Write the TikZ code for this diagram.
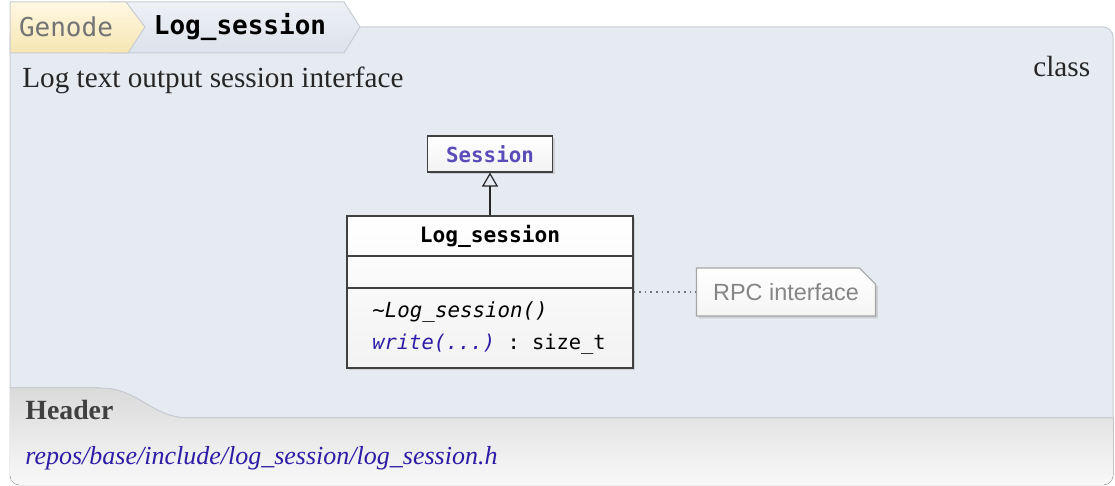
\documentclass[tikz,border=0pt]{standalone}
\usepackage{fontspec}
\setmainfont{Liberation Serif}
\setsansfont{Liberation Sans}
\setmonofont{DejaVu Sans Mono}
\usetikzlibrary{shapes.misc,shadows,arrows.meta}
\definecolor{panelbg}{HTML}{E6EAF1}
\definecolor{panelline}{HTML}{C8CCD3}
\definecolor{tabyellowtop}{HTML}{FFF8E2}
\definecolor{tabyellowbot}{HTML}{F6E6B2}
\definecolor{tabbluetop}{HTML}{EEF1F6}
\definecolor{tabbluebot}{HTML}{DCE2EB}
\definecolor{footertop}{HTML}{DADADA}
\definecolor{footerbot}{HTML}{FAFAFA}
\definecolor{refpurple}{HTML}{5A4CB8}
\definecolor{linkblue}{HTML}{2C1CA6}
\definecolor{notegrey}{HTML}{858585}

\begin{document}
\begin{tikzpicture}[
  x=0.5pt,y=-0.5pt,
  crumb/.style={inner sep=0pt,font=\fontsize{13pt}{15pt}\selectfont\ttfamily},
  desc/.style={inner sep=0pt,text=black!85,font=\fontsize{14.6pt}{17pt}\selectfont},
  umlbox/.style={draw=black!75,line width=0.6pt,top color=white,bottom color=black!5,
    drop shadow={shadow xshift=1.2pt,shadow yshift=-1.2pt,opacity=0.25}},
  umltext/.style={inner sep=0pt,font=\fontsize{10.4pt}{12pt}\selectfont\ttfamily},
  notebox/.style={chamfered rectangle,chamfered rectangle corners=north east,
    chamfered rectangle xsep=5pt,draw=black!35,line width=0.6pt,
    top color=white,bottom color=black!4,minimum width=89pt,minimum height=24pt,
    drop shadow={shadow xshift=1.2pt,shadow yshift=-1.2pt,opacity=0.25},
    text=notegrey,font=\fontsize{11.7pt}{14pt}\selectfont\sffamily}
]
  \useasboundingbox (0,0) rectangle (1115,486);

  \filldraw[fill=panelbg,draw=panelline,line width=0.5pt,rounded corners=5pt]
    (10,27) rectangle (1113,485);
  \begin{scope}
    \clip[rounded corners=5pt] (10,27) rectangle (1113,485);
    \fill[top color=footertop,bottom color=footerbot]
      (0,388) -- (100,388) .. controls (140,388) and (150,418) .. (190,418)
      -- (1120,418) -- (1120,490) -- (0,490) -- cycle;
    \draw[panelline,line width=0.5pt]
      (0,388) -- (100,388) .. controls (140,388) and (150,418) .. (190,418) -- (1120,418);
  \end{scope}

  \path[top color=tabbluetop,bottom color=tabbluebot,draw=panelline,line width=0.5pt]
    (110,2) -- (344,2) -- (360,27) -- (344,53) -- (110,53) -- cycle;
  \path[top color=tabyellowtop,bottom color=tabyellowbot,draw=panelline,line width=0.5pt]
    (10,53) -- (10,2) -- (126,2) -- (145,27) -- (128,53) -- cycle;

  \node[crumb,text=black!55] (genode) at (66,27) {Genode};
  \node[crumb,font=\fontsize{13pt}{15pt}\selectfont\ttfamily\bfseries] (crumbname) at (240,27) {Log\_session};

  \node[desc,anchor=base west] (brief) at (22,88) {Log text output session interface};
  \node[desc,anchor=base west] (kind) at (1033,77) {class};

  \node[umlbox,minimum width=62.5pt,minimum height=18pt] (session) at (490,154) {};
  \node[umltext,text=refpurple,font=\fontsize{10.4pt}{12pt}\selectfont\ttfamily\bfseries] (sessionname) at (session) {Session};

  \node[umlbox,minimum width=143pt,minimum height=76pt] (cls) at (490,292) {};
  \node[umltext,font=\fontsize{10.6pt}{12pt}\selectfont\ttfamily\bfseries] (clsname) at (490,236) {Log\_session};
  \draw[black!75,line width=0.6pt] (cls.west |- 0,256) -- (cls.east |- 0,256);
  \draw[black!75,line width=0.6pt] (cls.west |- 0,288) -- (cls.east |- 0,288);
  \node[umltext,anchor=base west] (dtor) at (372,318) {\itshape\textasciitilde Log\_session()};
  \node[umltext,anchor=base west,font=\fontsize{10.2pt}{12pt}\selectfont\ttfamily] (write) at (372,350) {\textcolor{linkblue}{\itshape write(...)} : size\_t};

  \draw[black!85,line width=0.6pt,-{Triangle[open,length=7pt,width=8pt]}] (cls) -- (session);

  \node[notebox] (rpc) at (786,292) {RPC interface};
  \draw[black!55,line width=0.8pt,dotted] (rpc.west -| cls.east) -- (rpc.west);

  \node[inner sep=0pt,anchor=base west,text=black!75,font=\fontsize{13.9pt}{16pt}\selectfont\bfseries] (hdr) at (25,420) {Header};
  \node[inner sep=0pt,anchor=base west,text=linkblue,font=\fontsize{13pt}{16pt}\selectfont\itshape] (hdrpath) at (25,465) {repos/base/include/log\_session/log\_session.h};
\end{tikzpicture}
\end{document}
